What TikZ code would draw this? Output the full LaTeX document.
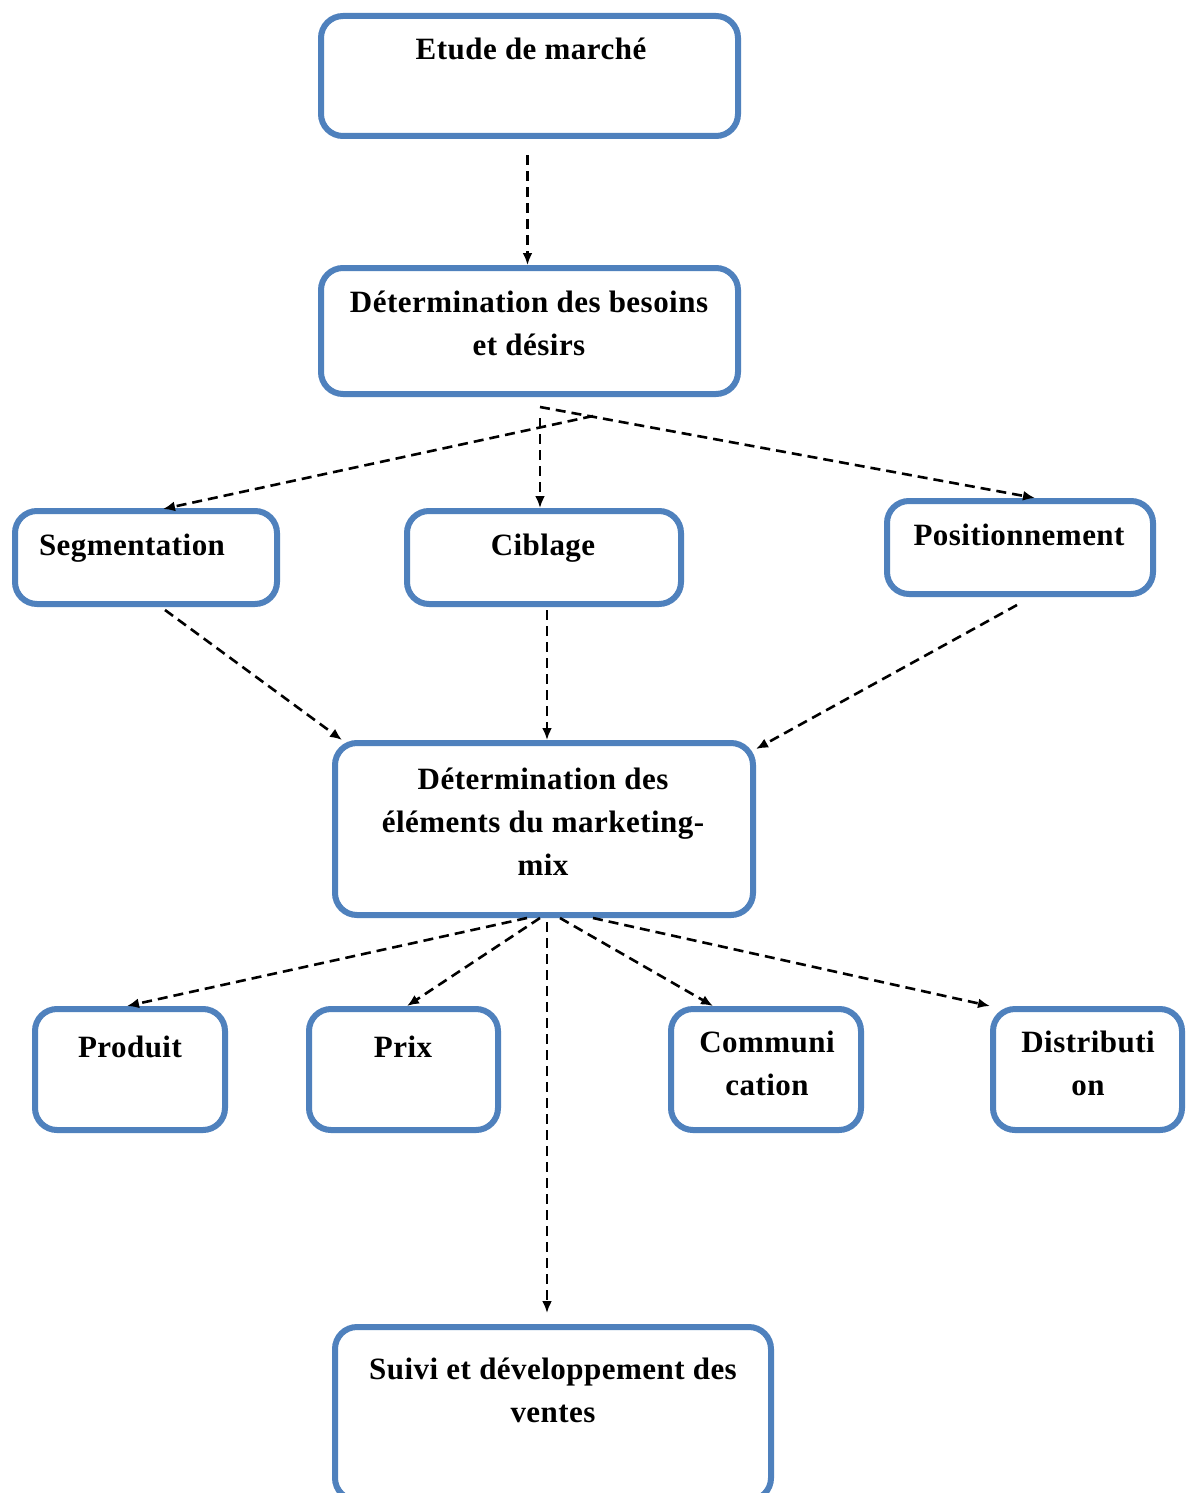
\documentclass[tikz,border=0pt]{standalone}
\usepackage{fontspec}
\setmainfont{Liberation Serif}[LetterSpace=1.5]
\usetikzlibrary{arrows.meta,calc}
\definecolor{boxblue}{HTML}{4F81BD}
\tikzset{
  box/.style={draw=boxblue, line width=6pt, rounded corners=22pt, inner sep=0pt, outer sep=0pt, fill=white},
  lbl/.style={font=\bfseries\fontsize{31}{43}\selectfont, align=center, anchor=base, inner sep=0pt},
  conn/.style={draw=black, line width=2.6pt, dash pattern=on 10pt off 6pt, -{Latex[length=12pt,width=10pt]}},
}
\begin{document}
\begin{tikzpicture}[x=1pt,y=-1pt]
\clip (0,0) rectangle (1187,1493);
\fill[white] (0,0) rectangle (1187,1493);
% boxes
\node[box, minimum width=417pt, minimum height=120pt] (b1) at (529.5,76) {};
\node[box, minimum width=417pt, minimum height=126pt] (b2) at (529.5,331) {};
\node[box, minimum width=262pt, minimum height=93pt] (seg) at (146,557.5) {};
\node[box, minimum width=274pt, minimum height=93pt] (cib) at (544,557.5) {};
\node[box, minimum width=266pt, minimum height=93pt] (pos) at (1020,547.5) {};
\node[box, minimum width=418pt, minimum height=172pt] (mix) at (544,829) {};
\node[box, minimum width=190pt, minimum height=121pt] (prod) at (130,1069.5) {};
\node[box, minimum width=189pt, minimum height=121pt] (prix) at (403.5,1069.5) {};
\node[box, minimum width=190pt, minimum height=121pt] (comm) at (766,1069.5) {};
\node[box, minimum width=189pt, minimum height=121pt] (dist) at (1087.5,1069.5) {};
\node[box, minimum width=436pt, minimum height=173pt] (suivi) at (553,1413.5) {};
% labels (base = baseline of the last line)
\node[lbl] (t1) at (531,60) {Etude de marché};
\node[lbl] (t2) at (529,355) {Détermination des besoins\\et désirs};
\node[lbl] (t3) at (132,555) {Segmentation};
\node[lbl] (t4) at (543,555) {Ciblage};
\node[lbl] (t5) at (1019,545) {Positionnement};
\node[lbl] (t6) at (543,875) {Détermination des\\éléments du marketing-\\mix};
\node[lbl] (t7) at (130,1057) {Produit};
\node[lbl] (t8) at (403,1057) {Prix};
\node[lbl] (t9) at (767,1095) {Communi\\cation};
\node[lbl] (t10) at (1088,1095) {Distributi\\on};
\node[lbl] (t11) at (553,1422) {Suivi et développement des\\ventes};
% connectors
\draw[conn] ($(b1.south)+(-2,19)$) -- ($(b2.north)+(-2,-3)$);
\draw[conn] ($(b2.south)+(10.5,13)$) -- ($(pos.north)+(15,-3)$);
\draw[conn] ($(b2.south)+(63.5,22)$) -- ($(seg.north)+(17,-2)$);
\draw[conn] ($(b2.south)+(10.5,24)$) -- ($(cib.north)+(-4,-3)$);
\draw[conn] ($(seg.south)+(19,6)$) -- ($(mix.north west)+(7,-3)$);
\draw[conn] ($(cib.south)+(3,6)$) -- ($(mix.north)+(3,-3)$);
\draw[conn] ($(pos.south)+(-3,11)$) -- ($(mix.north east)+(3,6)$);
\draw[conn] ($(mix.south)+(-17,3)$) -- ($(prod.north)+(-3,-3)$);
\draw[conn] ($(mix.south)+(-4,3)$) -- ($(prix.north)+(3.5,-3)$);
\draw[conn] ($(mix.south)+(16,3)$) -- ($(comm.north)+(-53,-3)$);
\draw[conn] ($(mix.south)+(49,3)$) -- ($(dist.north west)+(-3,-3)$);
\draw[conn] ($(mix.south)+(3,7)$) -- ($(suivi.north)+(-6,-14)$);
\end{tikzpicture}
\end{document}
